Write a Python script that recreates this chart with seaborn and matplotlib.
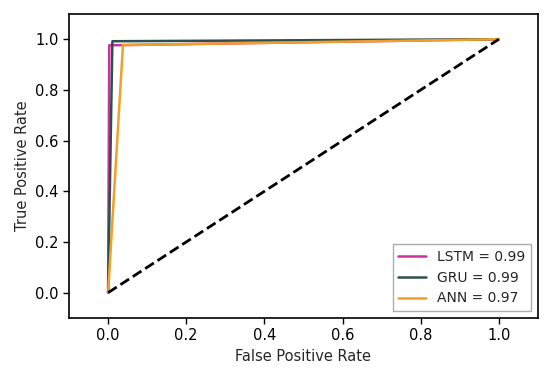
import matplotlib
matplotlib.use("Agg")
import matplotlib.pyplot as plt
import seaborn as sns
import pandas as pd

sns.set_style("ticks")
plt.rcParams['font.family'] = ['DejaVu Sans']

models = ["LSTM", "GRU", "ANN"]
auc = [0.99, 0.99, 0.97]
colors = ["#d0309a", "#2f4f4f", "#f0a028"]
fpr_lstm = [0.0, 0.003, 1.0]
tpr_lstm = [0.0, 0.976, 1.0]
fpr_gru = [0.0, 0.011, 1.0]
tpr_gru = [0.0, 0.992, 1.0]
fpr_ann = [0.0, 0.038, 1.0]
tpr_ann = [0.0, 0.977, 1.0]
diag = [0.0, 1.0]

fprs = [fpr_lstm, fpr_gru, fpr_ann]
tprs = [tpr_lstm, tpr_gru, tpr_ann]

fig = plt.figure(figsize=(5.5, 3.75), dpi=100)
ax = fig.add_axes([0.1255, 0.152, 0.8525, 0.811])

for m, a, c, f, t in zip(models, auc, colors, fprs, tprs):
    df = pd.DataFrame({"fpr": f, "tpr": t})
    sns.lineplot(data=df, x="fpr", y="tpr", ax=ax, color=c, lw=1.8,
                 label=f"{m} = {a:.2f}", sort=False, estimator=None)

ax.plot(diag, diag, color="black", lw=2, ls="--")
ax.set_xlim(-0.1, 1.1)
ax.set_ylim(-0.1, 1.1)
ax.set_xlabel("False Positive Rate", fontsize=10.5)
ax.set_ylabel("True Positive Rate", fontsize=10.5)
for s in ax.spines.values():
    s.set_visible(True)
    s.set_color("black")
    s.set_linewidth(1.2)
ax.tick_params(colors="black", direction="out", length=4, width=1, labelsize=10.5)
ax.legend(loc="lower right", frameon=True, fancybox=False, edgecolor="#999999",
          fontsize=10)
fig.savefig("out.png", dpi=100)
